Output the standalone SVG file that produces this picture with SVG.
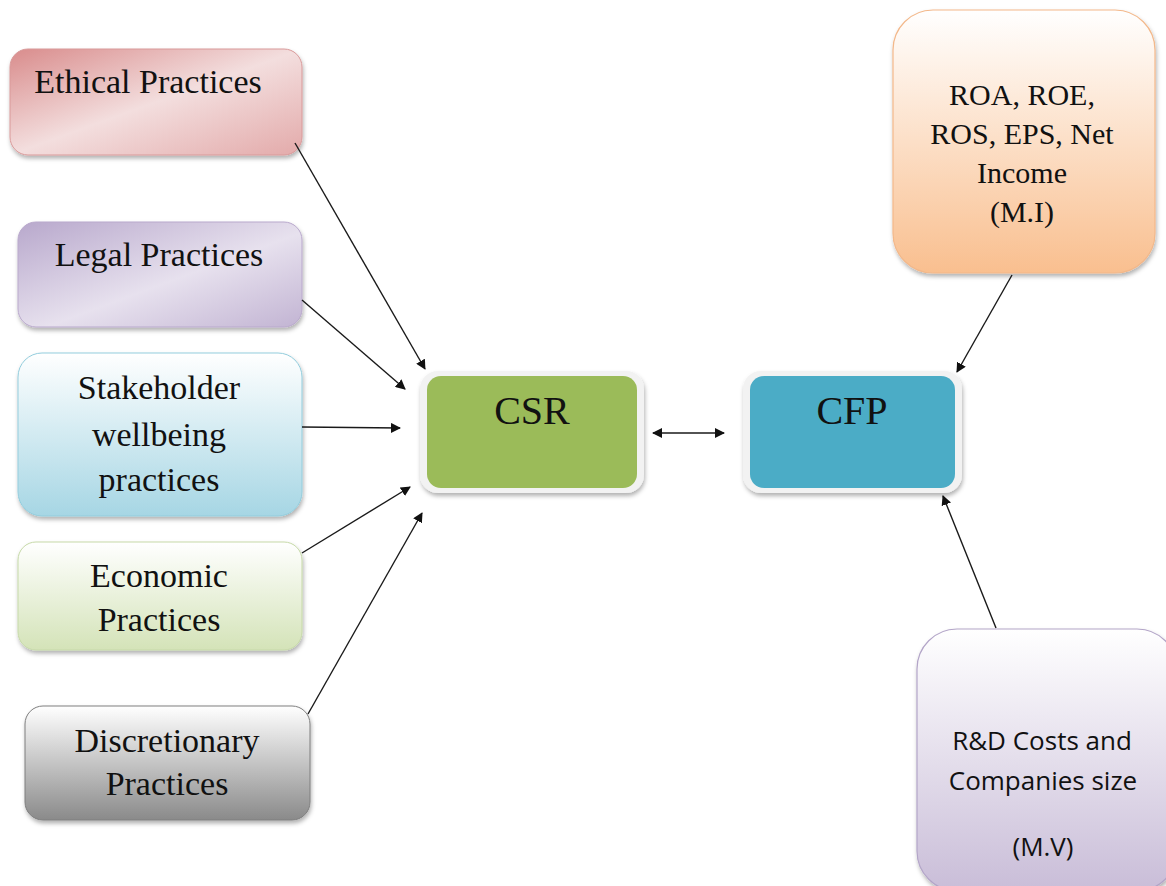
<svg xmlns="http://www.w3.org/2000/svg" width="1166" height="886" viewBox="0 0 1166 886">
<style>
.t{font-family:"Liberation Serif","Times New Roman",serif;font-size:34px;fill:#111;text-anchor:middle}
.tr{font-family:"Liberation Serif","Times New Roman",serif;font-size:30px;fill:#111;text-anchor:middle}
.ts{font-family:"Open Sans","Liberation Sans",sans-serif;font-size:26px;fill:#111;text-anchor:middle}
.tc{font-family:"Liberation Serif","Times New Roman",serif;font-size:40px;fill:#111;text-anchor:middle}
.c{stroke:#1a1a1a;stroke-width:1.4;fill:none;marker-end:url(#ah)}
</style>
<defs>
<marker id="ah" viewBox="0 0 10 10" refX="9" refY="5" markerWidth="10" markerHeight="10" markerUnits="userSpaceOnUse" orient="auto-start-reverse"><path d="M0,0 L10,5 L0,10 z" fill="#111"/></marker>
<filter id="sh" x="-10%" y="-10%" width="125%" height="130%"><feDropShadow dx="1" dy="3" stdDeviation="2" flood-color="#000" flood-opacity="0.3"/></filter>
<linearGradient id="gEth" x1="0" y1="0" x2="1" y2="1"><stop offset="0" stop-color="#d98c8c"/><stop offset="0.5" stop-color="#f3dede"/><stop offset="1" stop-color="#e3aaaa"/></linearGradient>
<linearGradient id="gLeg" x1="0" y1="0" x2="1" y2="1"><stop offset="0" stop-color="#b8a8cc"/><stop offset="0.55" stop-color="#e7e1ee"/><stop offset="1" stop-color="#c2b4d3"/></linearGradient>
<linearGradient id="gSta" x1="0" y1="0" x2="0" y2="1"><stop offset="0" stop-color="#ffffff"/><stop offset="1" stop-color="#a6d6e4"/></linearGradient>
<linearGradient id="gEco" x1="0" y1="0" x2="0" y2="1"><stop offset="0" stop-color="#ffffff"/><stop offset="1" stop-color="#d4e3b8"/></linearGradient>
<linearGradient id="gDis" x1="0" y1="0" x2="0" y2="1"><stop offset="0" stop-color="#ffffff"/><stop offset="1" stop-color="#8a8a8a"/></linearGradient>
<linearGradient id="gRoa" x1="0" y1="0" x2="0" y2="1"><stop offset="0" stop-color="#ffffff"/><stop offset="1" stop-color="#f9bf8f"/></linearGradient>
<linearGradient id="gMv" x1="0" y1="0" x2="0" y2="1"><stop offset="0" stop-color="#ffffff"/><stop offset="1" stop-color="#c9bdd8"/></linearGradient>
</defs>
<rect width="1166" height="886" fill="#fff"/>

<g id="ethical">
<rect x="10" y="49" width="292" height="106" rx="18" fill="url(#gEth)" stroke="#d99a9a" stroke-width="1" filter="url(#sh)"/>
<text class="t" x="148" y="93">Ethical Practices</text>
</g>
<g id="legal">
<rect x="18" y="222" width="284" height="105" rx="18" fill="url(#gLeg)" stroke="#b9a9cc" stroke-width="1" filter="url(#sh)"/>
<text class="t" x="159" y="266">Legal Practices</text>
</g>
<g id="stakeholder">
<rect x="18" y="353" width="284" height="163" rx="24" fill="url(#gSta)" stroke="#93cddd" stroke-width="1" filter="url(#sh)"/>
<text class="t" x="159" y="399">Stakeholder</text>
<text class="t" x="159" y="446">wellbeing</text>
<text class="t" x="159" y="491">practices</text>
</g>
<g id="economic">
<rect x="18" y="542" width="284" height="108" rx="18" fill="url(#gEco)" stroke="#c6d9a8" stroke-width="1" filter="url(#sh)"/>
<text class="t" x="159" y="587">Economic</text>
<text class="t" x="159" y="631">Practices</text>
</g>
<g id="discretionary">
<rect x="25" y="706" width="285" height="114" rx="18" fill="url(#gDis)" stroke="#7f7f7f" stroke-width="1" filter="url(#sh)"/>
<text class="t" x="167" y="752">Discretionary</text>
<text class="t" x="167" y="795">Practices</text>
</g>
<g id="csr">
<rect x="420" y="371" width="224" height="122" rx="18" fill="#f2f2f2" filter="url(#sh)"/>
<rect x="427" y="376" width="210" height="112" rx="14" fill="#9bbb59"/>
<text class="tc" x="532" y="424">CSR</text>
</g>
<g id="cfp">
<rect x="743" y="371" width="219" height="122" rx="18" fill="#f2f2f2" filter="url(#sh)"/>
<rect x="750" y="376" width="205" height="112" rx="14" fill="#4bacc6"/>
<text class="tc" x="852" y="424">CFP</text>
</g>
<g id="roa">
<rect x="893" y="10" width="262" height="263" rx="40" fill="url(#gRoa)" stroke="#f3b88a" stroke-width="1.2" filter="url(#sh)"/>
<text class="tr" x="1022" y="105">ROA, ROE,</text>
<text class="tr" x="1022" y="144">ROS, EPS, Net</text>
<text class="tr" x="1022" y="183">Income</text>
<text class="tr" x="1022" y="222">(M.I)</text>
</g>
<g id="mv">
<rect x="917" y="629" width="260" height="262" rx="40" fill="url(#gMv)" stroke="#b3a5c8" stroke-width="1.2" filter="url(#sh)"/>
<text class="ts" x="1042" y="750">R&amp;D Costs and</text>
<text class="ts" x="1043" y="790">Companies size</text>
<text class="ts" x="1043" y="856">(M.V)</text>
</g>

<g id="connectors">
<line class="c" x1="295" y1="143" x2="425" y2="369"/>
<line class="c" x1="302" y1="300" x2="405" y2="389"/>
<line class="c" x1="302" y1="427" x2="400" y2="428"/>
<line class="c" x1="302" y1="553" x2="410" y2="487"/>
<line class="c" x1="308" y1="714" x2="422" y2="513"/>
<line class="c" x1="653" y1="433" x2="724" y2="433" marker-start="url(#ah)"/>
<line class="c" x1="1012" y1="275" x2="957" y2="372"/>
<line class="c" x1="996" y1="628" x2="943" y2="496"/>
</g>
</svg>
